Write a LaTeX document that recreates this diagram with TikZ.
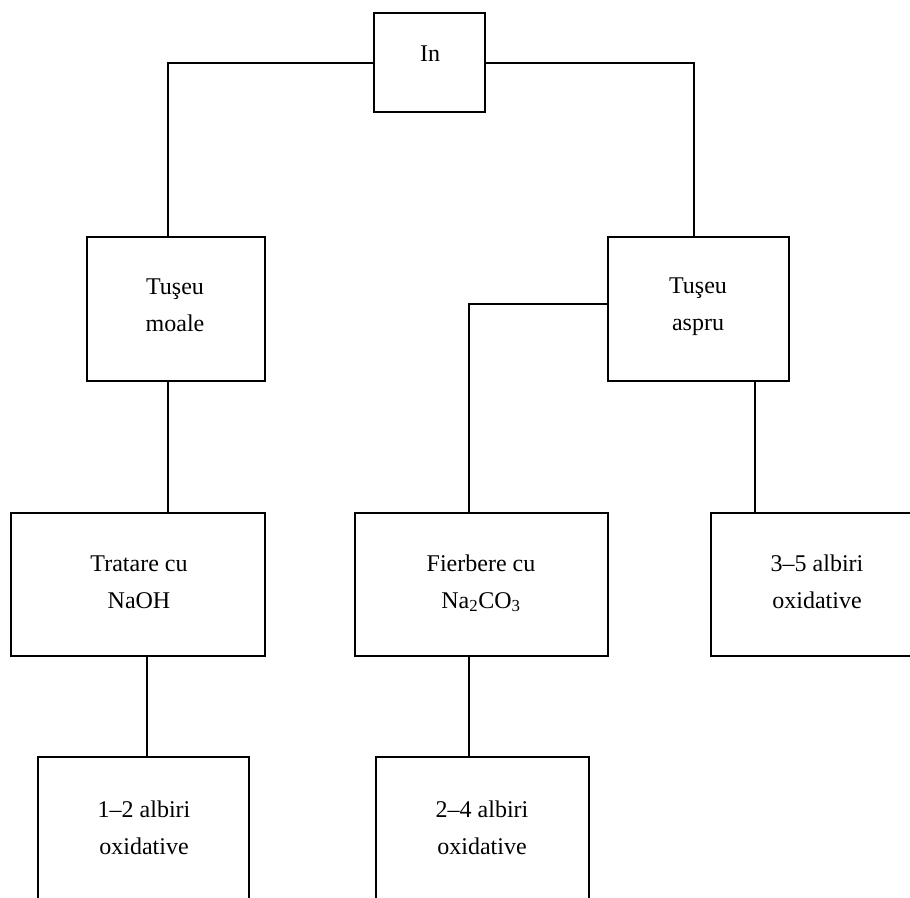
\documentclass[tikz,border=0pt]{standalone}
\usepackage{fontspec}
\setmainfont{Liberation Serif}
\usetikzlibrary{fit}

\begin{document}
\begin{tikzpicture}[
    x=0.75pt, y=-0.75pt,
    box/.style={draw, line width=1.5pt, inner sep=0pt, outer sep=0pt},
    lbl/.style={inner sep=0pt, align=center, font=\fontsize{18}{27.75}\selectfont},
    link/.style={line width=1.5pt}
  ]
  \useasboundingbox (0,0) rectangle (910,897);
  \clip (0,0) rectangle (910,897);

  % boxes (the lower row runs off the page edge)
  \node[box, fit={(374,13) (485,112)}]  (in)      {};
  \node[box, fit={(87,237) (265,381)}]  (moale)   {};
  \node[box, fit={(608,237) (789,381)}] (aspru)   {};
  \node[box, fit={(11,513) (265,656)}]  (tratare) {};
  \node[box, fit={(355,513) (608,656)}] (fierb)   {};
  \node[box, fit={(711,513) (930,656)}] (alb35)   {};
  \node[box, fit={(38,757) (249,960)}]  (alb12)   {};
  \node[box, fit={(376,757) (589,960)}] (alb24)   {};

  % labels
  \node[lbl] (t-in)      at (430,54)  {In};
  \node[lbl] (t-moale)   at (175,305) {Tuşeu\\moale};
  \node[lbl] (t-aspru)   at (698,307) {Tuşeu\\aspru};
  \node[lbl] (t-tratare) at (139,582) {Tratare cu\\NaOH};
  \node[lbl] (t-fierb)   at (481,583) {Fierbere cu\\Na\textsubscript{2}CO\textsubscript{3}};
  \node[lbl] (t-alb35)   at (817,582) {3–5 albiri\\oxidative};
  \node[lbl] (t-alb12)   at (144,828) {1–2 albiri\\oxidative};
  \node[lbl] (t-alb24)   at (482,828) {2–4 albiri\\oxidative};

  % connector columns and junction points
  \coordinate (xL) at (168,0);
  \coordinate (xR) at (694,0);
  \coordinate (xT) at (147,0);
  \coordinate (xA) at (755,0);
  \coordinate (jF) at (469,304);

  % connectors
  \draw[link] (in.west) -| (xL |- moale.north);
  \draw[link] (in.east) -| (xR |- aspru.north);
  \draw[link] (xL |- moale.south) -- (xL |- tratare.north);
  \draw[link] (aspru.west |- jF) -| (jF |- fierb.north);
  \draw[link] (xA |- aspru.south) -- (xA |- alb35.north);
  \draw[link] (xT |- tratare.south) -- (xT |- alb12.north);
  \draw[link] (jF |- fierb.south) -- (jF |- alb24.north);
\end{tikzpicture}
\end{document}
